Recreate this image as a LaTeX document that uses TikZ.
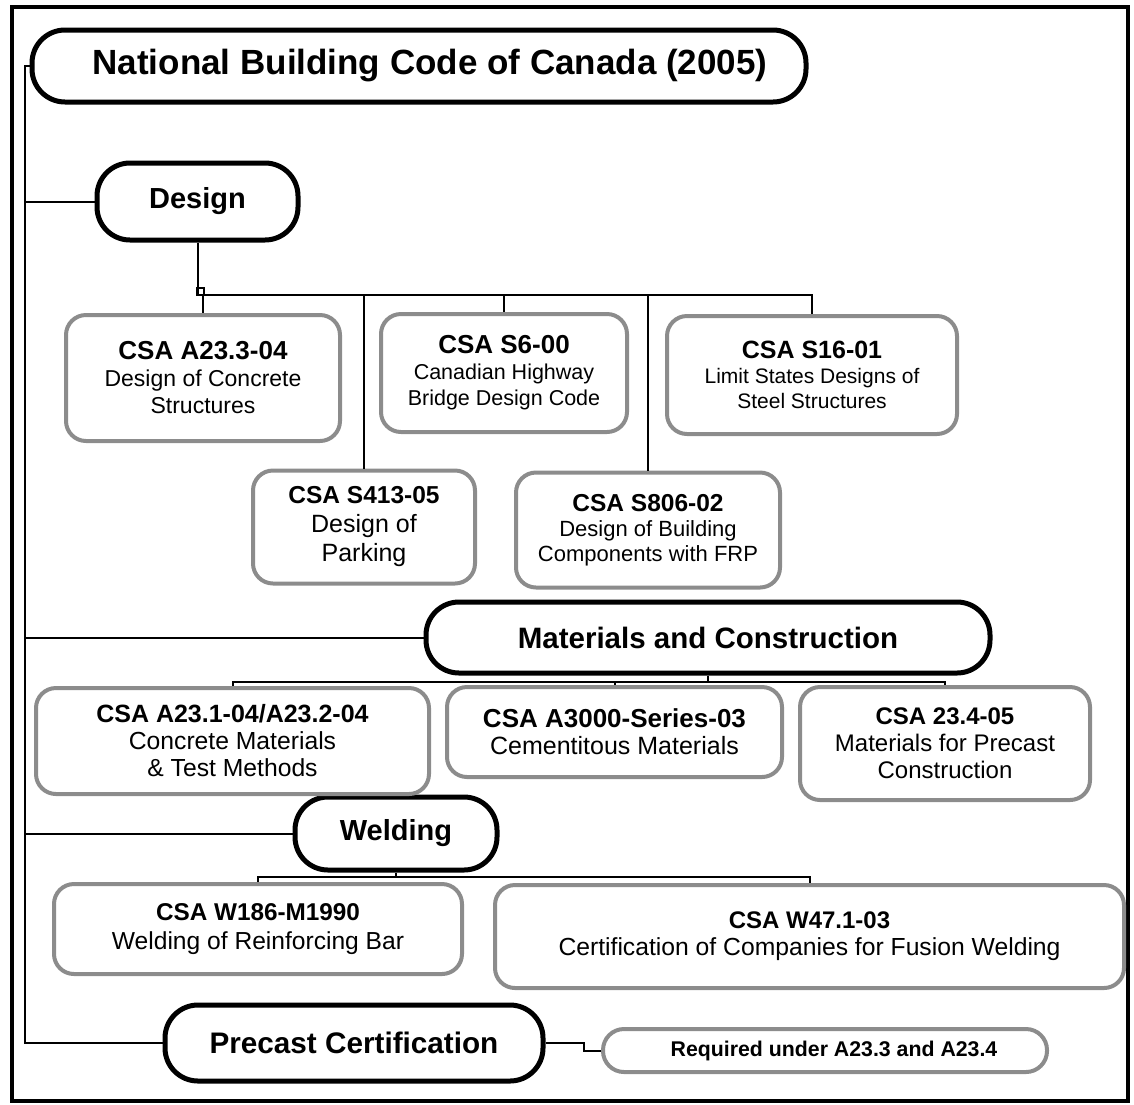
\documentclass[tikz,border=0pt]{standalone}
\usepackage{fontspec}
\setmainfont{Liberation Sans}
\newcommand{\hd}[2]{{\fontsize{#1}{#1}\selectfont\bfseries #2}}
\tikzset{
  pill/.style={draw=black, line width=5pt, rounded corners=33pt, fill=white, inner sep=0pt},
  std/.style={draw=black!45, line width=4pt, rounded corners=20pt, fill=white, inner sep=0pt, align=center},
  link/.style={draw=black, line width=2pt},
}
\begin{document}
\begin{tikzpicture}[x=1pt,y=-1pt]
\useasboundingbox (0,0) rectangle (1134,1104);
\draw[line width=4pt] (12,7) rectangle (1128,1101);

% main pills
\node[pill, minimum width=774pt, minimum height=72pt, font=\fontsize{35}{40}\selectfont\bfseries] (title) at (419,66) {\hspace*{22pt}National Building Code of Canada (2005)};
\node[pill, minimum width=201pt, minimum height=77pt, font=\fontsize{29}{34}\selectfont\bfseries] (design) at (197.5,201.5) {Design};
\node[pill, minimum width=564pt, minimum height=71pt, font=\fontsize{29.5}{34}\selectfont\bfseries] (mat) at (708,637.5) {Materials and Construction};
\node[pill, minimum width=202pt, minimum height=73pt, font=\fontsize{29}{34}\selectfont\bfseries] (weld) at (396,833.5) {Welding};
\node[pill, minimum width=378pt, minimum height=76pt, font=\fontsize{29.7}{34}\selectfont\bfseries] (precast) at (354,1043) {Precast Certification};

% design standards
\node[std, minimum width=274pt, minimum height=126pt, font=\fontsize{23}{27}\selectfont] (a233) at (203,378)
  {\hd{26}{CSA A23.3-04}\\Design of Concrete\\Structures};
\node[std, minimum width=246pt, minimum height=118pt, font=\fontsize{21.5}{26}\selectfont] (s6) at (504,373)
  {\hd{26}{CSA S6-00}\\Canadian Highway\\Bridge Design Code};
\node[std, minimum width=290pt, minimum height=118pt, font=\fontsize{21}{25}\selectfont] (s16) at (812,375)
  {\hd{25}{CSA S16-01}\\Limit States Designs of\\Steel Structures};
\node[std, minimum width=222pt, minimum height=113pt, font=\fontsize{25}{29}\selectfont] (s413) at (364,527)
  {\hd{24.5}{CSA S413-05}\\Design of\\Parking};
\node[std, minimum width=264pt, minimum height=115pt, font=\fontsize{22}{25}\selectfont] (s806) at (648,530)
  {\hd{24.5}{CSA S806-02}\\Design of Building\\Components with FRP};

% materials standards
\node[std, minimum width=393pt, minimum height=106pt, font=\fontsize{24.7}{27}\selectfont] (a231) at (232.5,741)
  {\hd{25}{CSA A23.1-04/A23.2-04}\\Concrete Materials\\\& Test Methods};
\node[std, minimum width=335pt, minimum height=90pt, font=\fontsize{25}{27}\selectfont] (a3000) at (614.5,732)
  {\hd{26}{CSA A3000-Series-03}\\Cementitous Materials};
\node[std, minimum width=290pt, minimum height=113pt, font=\fontsize{24}{27}\selectfont] (s234) at (945,743.5)
  {\hd{24}{CSA 23.4-05}\\Materials for Precast\\Construction};

% welding standards
\node[std, minimum width=408pt, minimum height=90pt, font=\fontsize{24.6}{29}\selectfont] (w186) at (258,929)
  {\hd{24.3}{CSA W186-M1990}\\Welding of Reinforcing Bar};
\node[std, minimum width=629pt, minimum height=103pt, font=\fontsize{24.7}{27}\selectfont] (w47) at (809.5,936.5)
  {\hd{24}{CSA W47.1-03}\\Certification of Companies for Fusion Welding};

% precast requirement
\node[std, rounded corners=21pt, minimum width=444pt, minimum height=43pt, font=\fontsize{21.3}{25}\selectfont\bfseries] (req) at (825,1050.5)
  {\hspace*{18pt}Required under A23.3 and A23.4};

% trunk
\coordinate (tk) at (25,0);
\draw[link] (title.west) -- (title.west -| tk) -- (precast.west -| tk) -- (precast.west);
\draw[link] (design.west -| tk) -- (design.west);
\draw[link] (mat.west -| tk) -- (mat.west);
\draw[link] (weld.west -| tk) -- (weld.west);

% design bus
\coordinate (dbus) at (197,295);
\draw[link] (design.south) -- (design.south |- dbus) -- (s16.north |- dbus) -- (s16.north);
\draw[line width=1.2pt] (dbus) rectangle ++(7,-7);
\draw[link] (a233.north |- dbus) -- (a233.north);
\draw[link] (s413.north |- dbus) -- (s413.north);
\draw[link] (s6.north |- dbus) -- (s6.north);
\draw[link] (s806.north |- dbus) -- (s806.north);

% materials bus
\coordinate (mbus) at (0,682);
\draw[link] (mat.south) -- (mat.south |- mbus);
\draw[link] (a231.north) -- (a231.north |- mbus) -- (s234.north |- mbus) -- (s234.north);
\draw[link] (a3000.north |- mbus) -- (a3000.north);

% welding bus
\coordinate (wbus) at (0,877);
\draw[link] (weld.south) -- (weld.south |- wbus);
\draw[link] (w186.north) -- (w186.north |- wbus) -- (w47.north |- wbus) -- (w47.north);

% precast to requirement
\draw[link] (precast.east) -- ++(38,0) |- (req.west);
\end{tikzpicture}
\end{document}
